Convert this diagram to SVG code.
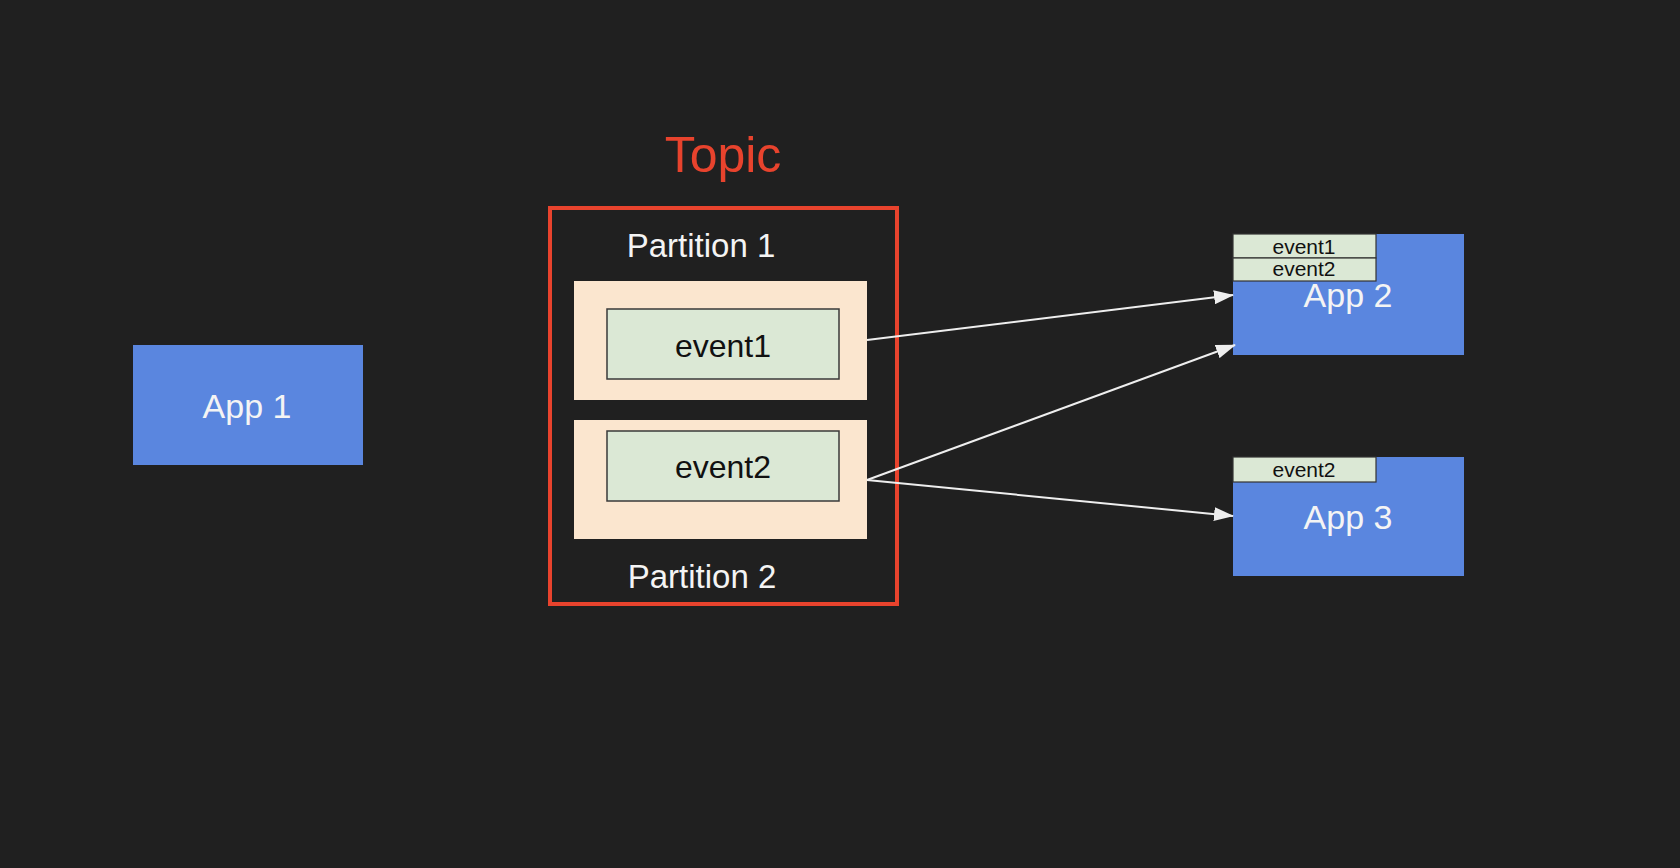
<svg xmlns="http://www.w3.org/2000/svg" width="1680" height="868" viewBox="0 0 1680 868">
<style>
.t{font-family:"Liberation Sans",Arial,sans-serif;text-anchor:middle}
.app{fill:#5a86df}
.appt{fill:#f4f4f4;font-size:34px}
.part{fill:#fbe6cf}
.ev{fill:#dbe8d5;stroke:#3a3a3a;stroke-width:1.5}
.evt{fill:#111;font-size:32px}
.sev{fill:#dbe8d5;stroke:#333;stroke-width:1.2}
.sevt{fill:#111;font-size:21px}
.pt{fill:#f4f4f4;font-size:33px}
.conn{stroke:#eeeeee;stroke-width:2;fill:none;marker-end:url(#ah)}
</style>
<defs>
<marker id="ah" markerWidth="20" markerHeight="14" refX="19" refY="7" orient="auto" markerUnits="userSpaceOnUse">
<path d="M0,0 L20,7 L0,14 Z" fill="#eeeeee"/>
</marker>
</defs>
<rect width="1680" height="868" fill="#202020"/>
<g id="app1">
<rect class="app" x="133" y="345" width="230" height="120"/>
<text class="t appt" x="247" y="418">App 1</text>
</g>
<g id="topic">
<text class="t" x="723" y="172" font-size="50" fill="#e8432d">Topic</text>
<rect x="550" y="208" width="347" height="396" fill="none" stroke="#e8432d" stroke-width="4"/>
</g>
<g id="partition1">
<text class="t pt" x="701" y="257">Partition 1</text>
<rect class="part" x="574" y="281" width="293" height="119"/>
<rect class="ev" x="607" y="309" width="232" height="70"/>
<text class="t evt" x="723" y="357">event1</text>
</g>
<g id="partition2">
<rect class="part" x="574" y="420" width="293" height="119"/>
<rect class="ev" x="607" y="431" width="232" height="70"/>
<text class="t evt" x="723" y="478">event2</text>
<text class="t pt" x="702" y="588">Partition 2</text>
</g>
<g id="app2">
<rect class="app" x="1233" y="234" width="231" height="121"/>
<rect class="sev" x="1233" y="234" width="143" height="24"/>
<text class="t sevt" x="1304" y="254">event1</text>
<rect class="sev" x="1233" y="258" width="143" height="23"/>
<text class="t sevt" x="1304" y="276">event2</text>
<text class="t appt" x="1348" y="307">App 2</text>
</g>
<g id="app3">
<rect class="app" x="1233" y="457" width="231" height="119"/>
<rect class="sev" x="1233" y="457" width="143" height="25"/>
<text class="t sevt" x="1304" y="477">event2</text>
<text class="t appt" x="1348" y="529">App 3</text>
</g>
<g id="connectors">
<line class="conn" x1="867" y1="340" x2="1233" y2="295"/>
<line class="conn" x1="867" y1="480" x2="1235" y2="345"/>
<line class="conn" x1="867" y1="480" x2="1233" y2="516"/>
</g>
</svg>
